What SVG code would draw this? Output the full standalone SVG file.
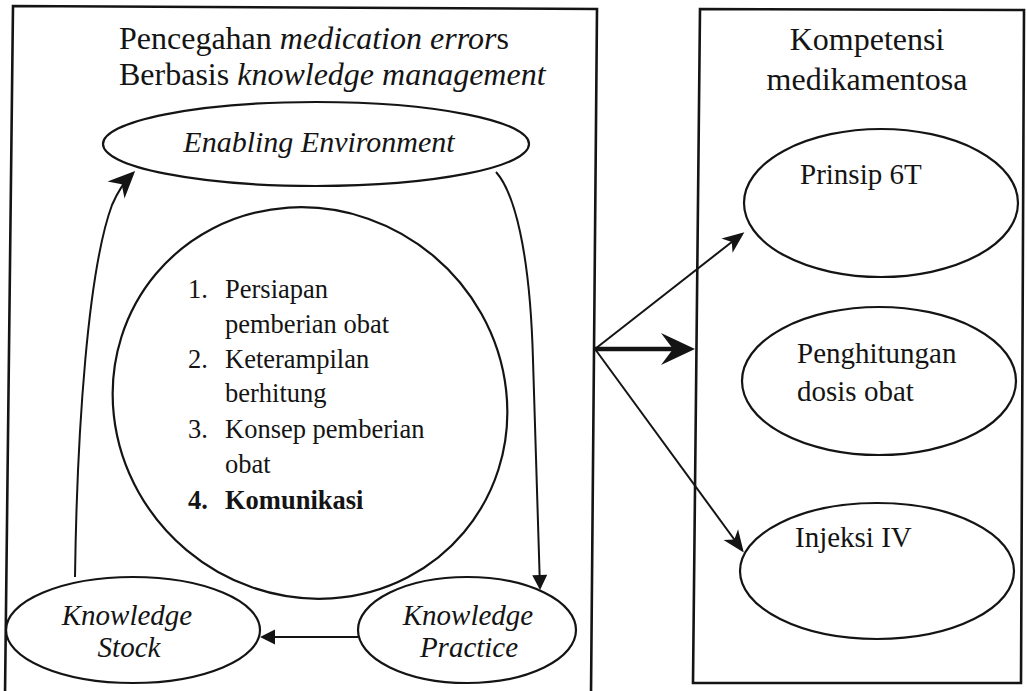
<svg xmlns="http://www.w3.org/2000/svg" width="1027" height="691" viewBox="0 0 1027 691">
  <style>
    .frame { fill: none; stroke: #141414; stroke-width: 2.6; }
    .shape { fill: none; stroke: #141414; stroke-width: 2.2; }
    .link { fill: none; stroke: #141414; stroke-width: 2; }
    .link-bold { fill: none; stroke: #141414; stroke-width: 4.5; }
    text { font-family: "Liberation Serif", "Times New Roman", serif; fill: #141414; }
    .title { font-size: 32px; }
    .head { font-size: 32px; }
    .env { font-size: 30px; font-style: italic; }
    .list { font-size: 26.5px; }
    .km { font-size: 29px; font-style: italic; }
    .comp { font-size: 29px; }
    .it { font-style: italic; }
  </style>
  <defs>
    <marker id="tri" viewBox="-15 -9 18 18" refX="0" refY="0" markerWidth="18" markerHeight="18" markerUnits="userSpaceOnUse" orient="auto">
      <path d="M2,0 L-13,-7.5 L-13,7.5 Z" fill="#141414"/>
    </marker>
    <marker id="stealth" viewBox="-28 -14 32 28" refX="0" refY="0" markerWidth="32" markerHeight="28" markerUnits="userSpaceOnUse" orient="auto">
      <path d="M3,0 L-24,-12 L-16,0 L-24,12 Z" fill="#141414"/>
    </marker>
    <marker id="stealth-sm" viewBox="-22 -11 26 22" refX="0" refY="0" markerWidth="26" markerHeight="22" markerUnits="userSpaceOnUse" orient="auto">
      <path d="M3,0 L-19,-9 L-13,0 L-19,9 Z" fill="#141414"/>
    </marker>
    <marker id="stealth-lg" viewBox="-30 -18 44 36" refX="0" refY="0" markerWidth="44" markerHeight="36" markerUnits="userSpaceOnUse" orient="auto">
      <path d="M10,0 L-24,-16 L-12,0 L-24,16 Z" fill="#141414"/>
    </marker>
  </defs>
  <rect width="1027" height="691" fill="#ffffff"/>

  <!-- left panel: knowledge management cycle -->
  <g id="panel-km">
    <path class="frame" d="M5,695 L13,6 L597,9 L591,695"/>
    <text class="title" x="119" y="49">Pencegahan <tspan class="it">medication error</tspan>s</text>
    <text class="title" x="119" y="85">Berbasis <tspan class="it">knowledge management</tspan></text>
  </g>

  <g id="node-enabling">
    <ellipse class="shape" cx="316" cy="144" rx="213" ry="42"/>
    <text class="env" x="319" y="152" text-anchor="middle">Enabling Environment</text>
  </g>

  <g id="node-core">
    <ellipse class="shape" cx="310" cy="403" rx="201" ry="192" transform="rotate(40 310 403)"/>
    <text class="list" x="188" y="298">1.</text>
    <text class="list" x="225" y="298">Persiapan</text>
    <text class="list" x="225" y="333">pemberian obat</text>
    <text class="list" x="188" y="368">2.</text>
    <text class="list" x="225" y="368">Keterampilan</text>
    <text class="list" x="225" y="402">berhitung</text>
    <text class="list" x="188" y="438">3.</text>
    <text class="list" x="225" y="438">Konsep pemberian</text>
    <text class="list" x="225" y="473">obat</text>
    <text class="list" x="188" y="509" font-weight="bold">4.</text>
    <text class="list" x="225" y="509" font-weight="bold">Komunikasi</text>
  </g>

  <g id="node-stock">
    <ellipse class="shape" cx="133" cy="630" rx="127" ry="53"/>
    <text class="km" x="127" y="625" text-anchor="middle">Knowledge</text>
    <text class="km" x="129" y="657" text-anchor="middle">Stock</text>
  </g>

  <g id="node-practice">
    <ellipse class="shape" cx="467" cy="630" rx="109" ry="53"/>
    <text class="km" x="468" y="625" text-anchor="middle">Knowledge</text>
    <text class="km" x="469" y="657" text-anchor="middle">Practice</text>
  </g>

  <!-- right panel: medication competences -->
  <g id="panel-competence">
    <path class="frame" d="M700,9 L1024,10 L1021,683 L693,683 Z"/>
    <text class="head" x="867" y="50" text-anchor="middle">Kompetensi</text>
    <text class="head" x="867" y="90" text-anchor="middle">medikamentosa</text>
  </g>

  <g id="node-prinsip">
    <ellipse class="shape" cx="881" cy="203" rx="137" ry="74"/>
    <text class="comp" x="800" y="184">Prinsip 6T</text>
  </g>

  <g id="node-dosis">
    <ellipse class="shape" cx="879" cy="381" rx="137" ry="74"/>
    <text class="comp" x="797" y="363">Penghitungan</text>
    <text class="comp" x="797" y="401">dosis obat</text>
  </g>

  <g id="node-injeksi">
    <ellipse class="shape" cx="877" cy="571" rx="137" ry="68"/>
    <text class="comp" x="795" y="547">Injeksi IV</text>
  </g>

  <g id="connectors">
    <!-- cycle: environment -> practice -> stock -> environment -->
    <path class="link" d="M496,172 C514,192 530,250 533,360 C536,460 539,540 540,588" marker-end="url(#tri)"/>
    <path class="link" d="M358,637 L262,637" marker-end="url(#tri)"/>
    <path class="link" d="M75,577 C77,430 88,270 112,205 Q120,186 133,173" marker-end="url(#stealth)"/>
    <!-- fan-out to the competence panel -->
    <path class="link" d="M595,349 L742,234" marker-end="url(#stealth-sm)"/>
    <path class="link-bold" d="M595,349 L685,349" marker-end="url(#stealth-lg)"/>
    <path class="link" d="M595,349 L742,550" marker-end="url(#stealth-sm)"/>
  </g>
</svg>
